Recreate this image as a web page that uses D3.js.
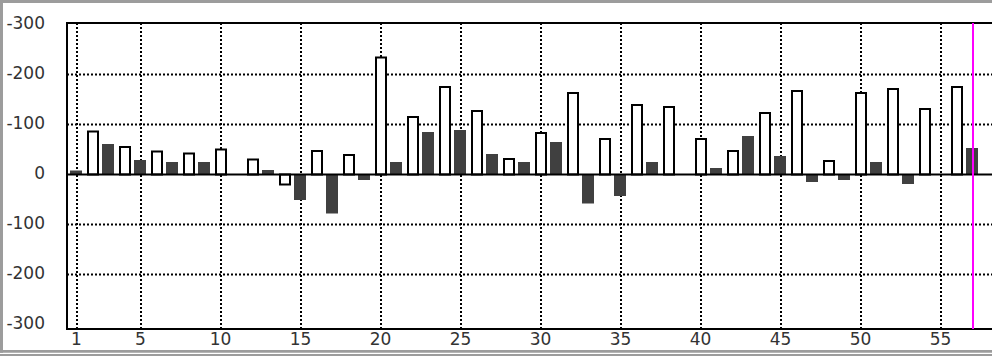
<!DOCTYPE html>
<html>
<head>
<meta charset="utf-8">
<script src="https://cdn.jsdelivr.net/npm/d3@7"></script>
<style>
  html, body { margin: 0; padding: 0; background: #fff; }
  svg { display: block; }
  .axis text { font-family: "DejaVu Sans", Verdana, sans-serif; font-size: 17px; fill: #333; }
</style>
</head>
<body>
<svg id="chart" width="992" height="356"></svg>
<script>
// ---- data ----
const darkPeriods  = [1,3,5,7,9,11,13,15,17,19,21,23,25,27,29,31,33,35,37,39,41,43,45,47,49,51,53,55,57];
const darkValues   = [8,61,29,25,25,0,9,-51,-78,-11,25,85,89,41,25,65,-58,-43,25,0,13,77,37,-15,-11,25,-19,0,53];
const whitePeriods = [2,4,6,8,10,12,14,16,18,20,22,24,26,28,30,32,34,36,38,40,42,44,46,48,50,52,54,56];
const whiteValues  = [86,55,46,42,50,30,-20,47,39,234,115,175,127,31,83,163,71,139,135,71,47,123,167,27,163,171,131,175];
const xTickValues  = [1,5,10,15,20,25,30,35,40,45,50,55];
const yTickValues  = [300,200,100,0,-100,-200,-300];
const yTickLabels  = ["-300","-200","-100","0","-100","-200","-300"];
const yGridValues  = [200,100,-100,-200];
const markerPeriod = 57;

// ---- layout ----
const W = 992, H = 356;
const svg = d3.select("#chart");

const x = d3.scaleLinear().domain([1, 57]).range([77, 973]);
const y = d3.scaleLinear().domain([-309, 303]).range([329, 23]);
const plotLeft = x(1) - 10, plotRight = W;
const plotTop = y(303), plotBottom = y(-309);

// outer gray border
const border = svg.append("g").attr("stroke", "#9c9c9c").attr("fill", "none");
border.append("line").attr("x1", 0).attr("x2", W).attr("y1", 1.5).attr("y2", 1.5).attr("stroke-width", 3);
border.append("line").attr("x1", 1.5).attr("x2", 1.5).attr("y1", 0).attr("y2", 352.7).attr("stroke-width", 3);
border.append("line").attr("x1", 0).attr("x2", W).attr("y1", 351.4).attr("y2", 351.4).attr("stroke-width", 2.6);
border.append("line").attr("x1", 0).attr("x2", W).attr("y1", 355).attr("y2", 355).attr("stroke-width", 2);

// grid
const grid = svg.append("g").attr("stroke", "#000").attr("stroke-width", 2).attr("stroke-dasharray", "2,2");
grid.selectAll("line.v").data(xTickValues).join("line").attr("class", "v")
  .attr("x1", d => x(d)).attr("x2", d => x(d))
  .attr("y1", plotTop).attr("y2", plotBottom);
grid.selectAll("line.h").data(yGridValues).join("line").attr("class", "h")
  .attr("x1", plotLeft).attr("x2", plotRight)
  .attr("y1", d => y(d)).attr("y2", d => y(d));

// dark bars
const dark = darkPeriods.map((p, i) => ({ p, v: darkValues[i] }));
svg.append("g").selectAll("rect").data(dark).join("rect")
  .attr("x", d => x(d.p) - 7)
  .attr("width", 12)
  .attr("y", d => Math.min(y(d.v), y(0)))
  .attr("height", d => Math.abs(y(d.v) - y(0)))
  .attr("fill", "#404040");

// white (outlined) bars
const white = whitePeriods.map((p, i) => ({ p, v: whiteValues[i] }));
svg.append("g").selectAll("rect").data(white).join("rect")
  .attr("x", d => x(d.p) - 5)
  .attr("width", 10)
  .attr("y", d => Math.min(y(d.v), y(0)))
  .attr("height", d => Math.abs(y(d.v) - y(0)))
  .attr("fill", "#fff")
  .attr("stroke", "#000")
  .attr("stroke-width", 2);

// zero line and frame
const frame = svg.append("g").attr("stroke", "#000").attr("stroke-width", 2);
frame.append("line").attr("x1", plotLeft).attr("x2", plotRight).attr("y1", y(0)).attr("y2", y(0));
frame.append("line").attr("x1", plotLeft).attr("x2", plotRight).attr("y1", plotTop).attr("y2", plotTop);
frame.append("line").attr("x1", plotLeft).attr("x2", plotRight).attr("y1", plotBottom).attr("y2", plotBottom);
frame.append("line").attr("x1", plotLeft).attr("x2", plotLeft).attr("y1", plotTop - 1).attr("y2", plotBottom + 1);

// marker line
svg.append("line")
  .attr("x1", x(markerPeriod)).attr("x2", x(markerPeriod))
  .attr("y1", plotTop).attr("y2", plotBottom)
  .attr("stroke", "#ff00ff").attr("stroke-width", 2);

// axes (labels only)
const yAxis = d3.axisLeft(y).tickValues(yTickValues)
  .tickFormat((d, i) => yTickLabels[i]).tickSize(0).tickPadding(0);
const gy = svg.append("g").attr("class", "axis").attr("transform", "translate(45,-1.2)").call(yAxis);
gy.select(".domain").remove();
gy.selectAll("text").attr("dy", "0.32em");

const xAxis = d3.axisBottom(x).tickValues(xTickValues)
  .tickFormat(d3.format("d")).tickSize(0).tickPadding(0);
const gx = svg.append("g").attr("class", "axis").attr("transform", `translate(-1,${plotBottom + 4})`).call(xAxis);
gx.select(".domain").remove();
</script>
</body>
</html>
